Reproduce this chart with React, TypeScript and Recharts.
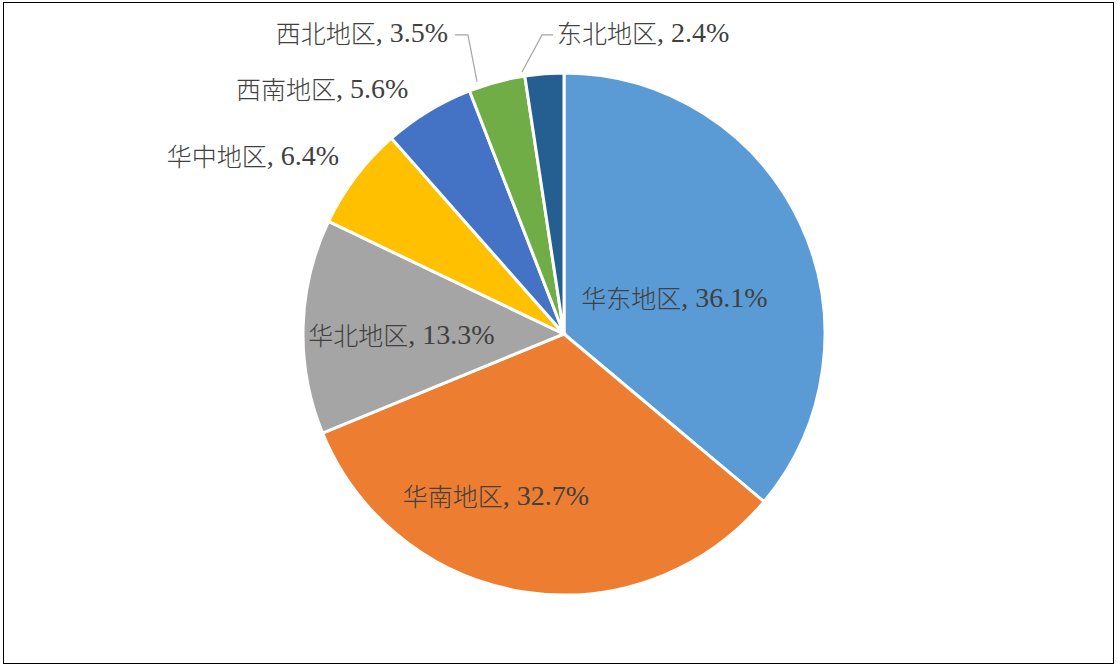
import React from 'react';
import { PieChart, Pie, Cell } from 'recharts';

const regions = ['华东地区', '华南地区', '华北地区', '华中地区', '西南地区', '西北地区', '东北地区'];
const shares = [36.1, 32.7, 13.3, 6.4, 5.6, 3.5, 2.4];
const colors = ['#5B9BD5', '#ED7D31', '#A5A5A5', '#FFC000', '#4472C4', '#70AD47', '#255E91'];

const data = regions.map((name, i) => ({ name, value: shares[i] }));

// label centre offsets, in units of the outer radius, from the pie centre
const labelOffsets: [number, number][] = [
  [0.423, -0.14],
  [-0.261, 0.617],
  [-0.623, 0],
  [-1.192, -0.686],
  [-0.927, -0.943],
  [-0.774, -1.157],
  [0.303, -1.157],
];

// leader line points, in units of the outer radius, from the pie centre
const leaderLines: ([number, number][] | null)[] = [
  null,
  null,
  null,
  null,
  null,
  [[-0.418, -1.146], [-0.368, -1.146], [-0.333, -0.966]],
  [[-0.042, -1.146], [-0.084, -1.146], [-0.161, -1.004]],
];

const LATIN = '"Liberation Serif", "Times New Roman", serif';
const CJK = '"Noto Sans CJK SC", "Noto Sans CJK JP", sans-serif';

const renderLabel = (props: any) => {
  const { cx, cy, outerRadius, index, name, value } = props;
  const r = outerRadius;
  const [ox, oy] = labelOffsets[index];
  const x = cx + ox * r;
  const y = cy + oy * r;
  const pts = leaderLines[index];
  return (
    <g key={`lbl-${index}`}>
      {pts && (
        <polyline
          points={pts.map(([px, py]) => `${cx + px * r},${cy + py * r}`).join(' ')}
          fill="none"
          stroke="#A5A5A5"
          strokeWidth={1.2}
        />
      )}
      <text x={x} y={y} textAnchor="middle" dominantBaseline="central" fill="#404040">
        <tspan fontSize={25} fontFamily={CJK} fontWeight={300}>
          {name}
        </tspan>
        <tspan fontSize={28} fontFamily={LATIN}>
          {`, ${Number(value).toFixed(1)}%`}
        </tspan>
      </text>
    </g>
  );
};

export default function App() {
  return (
    <div style={{ position: 'absolute', left: 0, top: 0, width: 1117, height: 668, background: '#fff' }}>
      <div
        style={{
          position: 'absolute',
          left: 3,
          top: 2,
          width: 1109,
          height: 660,
          border: '1px solid #000',
        }}
      />
      <div style={{ position: 'absolute', left: 0, top: 0 }}>
        <PieChart width={1117} height={668} margin={{ top: 0, right: 0, bottom: 0, left: 0 }}>
          <Pie
            data={data}
            dataKey="value"
            nameKey="name"
            cx={564}
            cy={334}
            outerRadius={261}
            startAngle={90}
            endAngle={-270}
            stroke="#FFFFFF"
            strokeWidth={3}
            label={renderLabel}
            labelLine={false}
            isAnimationActive={false}
          >
            {data.map((d, i) => (
              <Cell key={d.name} fill={colors[i]} />
            ))}
          </Pie>
        </PieChart>
      </div>
    </div>
  );
}
